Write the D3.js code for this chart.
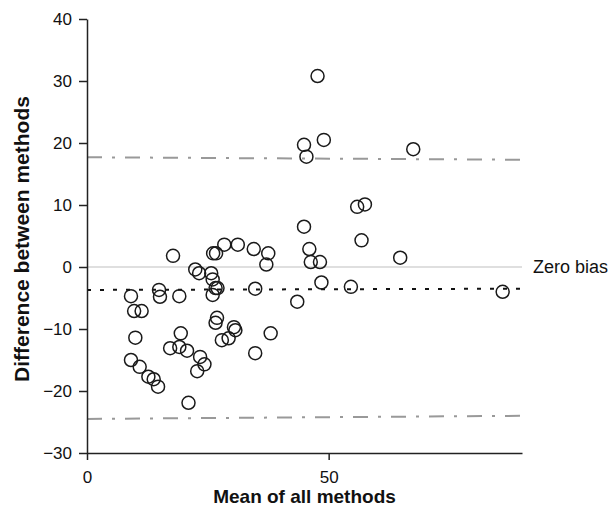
<!DOCTYPE html>
<html>
<head>
<meta charset="utf-8">
<script src="https://cdn.jsdelivr.net/npm/d3@7"></script>
<style>
  body { margin: 0; background: #fff; }
  svg { font-family: "Liberation Sans", Arial, sans-serif; }
</style>
</head>
<body>
<svg id="chart"></svg>
<script>
// mean of all methods (x) and difference between methods (y)
const meanVals = [47.7, 44.9, 49.0, 45.4, 67.5, 55.9, 57.5, 44.9, 56.8, 46.0,
  46.3, 48.2, 64.8, 48.5, 54.6, 86.0, 43.5, 34.5, 37.5, 37.1,
  34.8, 38.0, 34.8, 28.4, 31.2, 26.1, 26.7, 17.8, 22.4, 23.2,
  25.7, 26.0, 26.6, 27.0, 26.0, 19.1, 26.9, 26.6, 30.4, 30.7,
  27.9, 29.3, 19.4, 17.2, 19.1, 20.7, 23.4, 24.3, 22.8, 21.0,
  9.1, 14.9, 15.1, 9.75, 11.3, 10.0, 9.1, 10.9, 12.7, 13.8, 14.7];
const diffVals = [30.8, 19.7, 20.5, 17.8, 19.0, 9.7, 10.1, 6.5, 4.3, 2.9,
  0.8, 0.8, 1.5, -2.5, -3.2, -4.0, -5.6, 2.9, 2.2, 0.4,
  -3.5, -10.7, -13.9, 3.6, 3.6, 2.2, 2.2, 1.8, -0.4, -1.0,
  -1.0, -2.0, -3.4, -3.4, -4.5, -4.7, -8.2, -9.0, -9.7, -10.2,
  -11.8, -11.5, -10.7, -13.1, -12.9, -13.5, -14.5, -15.7, -16.8, -21.9,
  -4.7, -3.7, -4.8, -7.1, -7.1, -11.4, -15.0, -16.1, -17.7, -18.1, -19.3];

// reference lines, [mean, diff] at the ends
const upperLoA = [[0, 17.7], [90, 17.3]];
const lowerLoA = [[0, -24.5], [90, -24.0]];
const biasLine = [[0, -3.7], [90, -3.5]];
const zeroLine = [[0, 0], [90, 0]];

const xTicks = [0, 50];
const yTicks = [-30, -20, -10, 0, 10, 20, 30, 40];

const width = 611, height = 516;
const margin = {top: 19, right: 89, bottom: 63, left: 87};

const svg = d3.select("#chart")
  .attr("width", width)
  .attr("height", height)
  .attr("viewBox", [0, 0, width, height]);

const x = d3.scaleLinear()
  .domain([0, 90])
  .range([margin.left, width - margin.right]);

const y = d3.scaleLinear()
  .domain([-30, 40])
  .range([height - margin.bottom, margin.top]);

const line = d3.line().x(d => x(d[0])).y(d => y(d[1]));

svg.append("path")
  .attr("d", line(zeroLine))
  .attr("fill", "none")
  .attr("stroke", "#d4d4d4")
  .attr("stroke-width", 1.5);

svg.selectAll(".loa")
  .data([upperLoA, lowerLoA])
  .join("path")
    .attr("class", "loa")
    .attr("d", line)
    .attr("fill", "none")
    .attr("stroke", "#999")
    .attr("stroke-width", 2)
    .attr("stroke-dasharray", "15,10,3,10");

svg.append("path")
  .attr("d", line(biasLine))
  .attr("fill", "none")
  .attr("stroke", "#111")
  .attr("stroke-width", 2)
  .attr("stroke-dasharray", "4,9");

svg.append("g")
  .selectAll("circle")
  .data(d3.range(meanVals.length))
  .join("circle")
    .attr("cx", i => x(meanVals[i]))
    .attr("cy", i => y(diffVals[i]))
    .attr("r", 6.5)
    .attr("fill", "none")
    .attr("stroke", "#1a1a1a")
    .attr("stroke-width", 1.5);

let xAxis = g => g
  .attr("transform", `translate(0,${height - margin.bottom})`)
  .call(d3.axisBottom(x).tickValues(xTicks).tickSize(7).tickPadding(11).tickSizeOuter(0))
  .call(g => g.selectAll(".tick text").attr("font-size", 17).attr("fill", "#111"));

let yAxis = g => g
  .attr("transform", `translate(${margin.left},0)`)
  .call(d3.axisLeft(y).tickValues(yTicks).tickSize(8).tickPadding(7).tickSizeOuter(0))
  .call(g => g.selectAll(".tick text").attr("font-size", 17).attr("fill", "#111"));

svg.append("g").call(xAxis);
svg.append("g").call(yAxis);

svg.selectAll(".domain, .tick line")
  .attr("stroke", "#222")
  .attr("stroke-width", 1.5);

svg.append("text")
  .attr("x", x(45))
  .attr("y", 503)
  .attr("text-anchor", "middle")
  .attr("font-size", 19)
  .attr("font-weight", "bold")
  .attr("fill", "#111")
  .text("Mean of all methods");

svg.append("text")
  .attr("transform", "translate(29,239) rotate(-90)")
  .attr("text-anchor", "middle")
  .attr("font-size", 21)
  .attr("font-weight", "bold")
  .attr("fill", "#111")
  .text("Difference between methods");

svg.append("text")
  .attr("x", 533)
  .attr("y", y(0))
  .attr("dy", "0.35em")
  .attr("font-size", 18)
  .attr("fill", "#111")
  .text("Zero bias");
</script>
</body>
</html>
